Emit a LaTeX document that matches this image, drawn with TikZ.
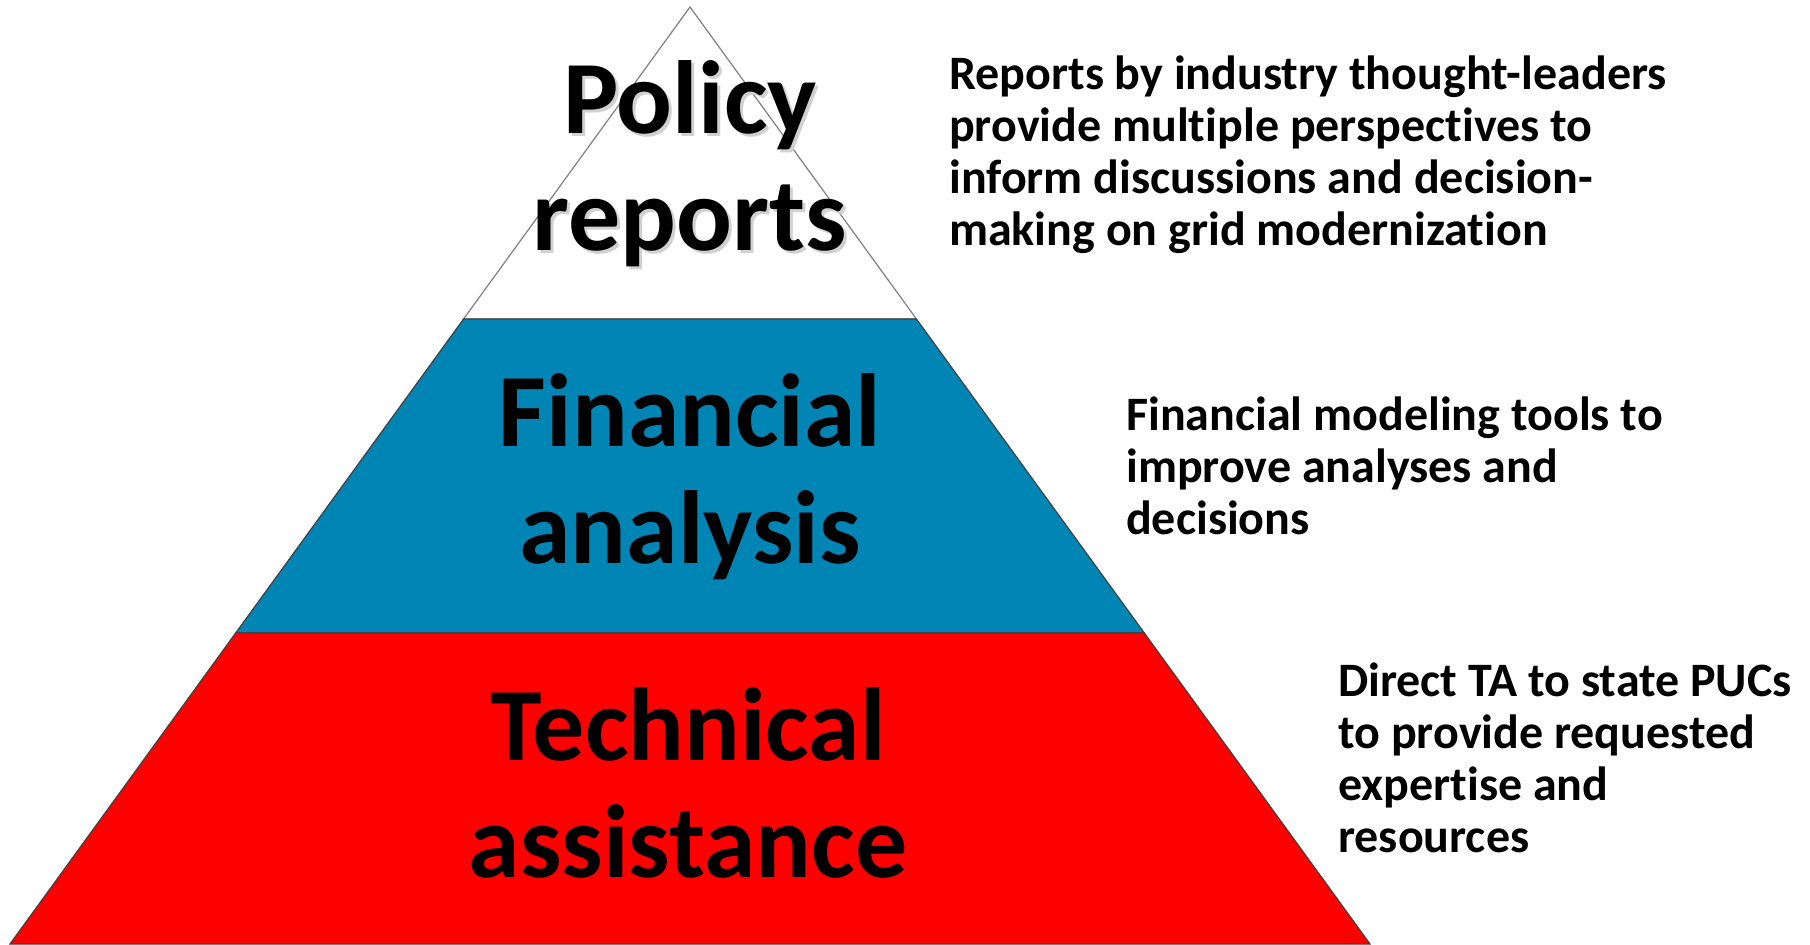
\documentclass[tikz,border=0pt]{standalone}
\usepackage{fontspec}
\setmainfont{Carlito}[Ligatures=NoCommon]
\usetikzlibrary{positioning, calc}
\definecolor{tierblue}{RGB}{0,133,180}
\definecolor{tierred}{RGB}{255,0,0}

\begin{document}
\begin{tikzpicture}[x=1pt, y=-1pt,
        bigtext/.style={font=\fontsize{104}{117}\selectfont\bfseries, align=center, inner sep=0pt, anchor=base},
        sidetext/.style={font=\fontsize{48}{52}\selectfont\bfseries, align=left, inner sep=0pt, anchor=base west}]
        \useasboundingbox (0,0) rectangle (1810,945);

        % corners of the pyramid
        \coordinate (apex) at (690, 7);
        \coordinate (baseL) at (10, 944);
        \coordinate (baseR) at (1370, 944);
        \coordinate (midL) at ($(apex)!0.333!(baseL)$);
        \coordinate (midR) at ($(apex)!0.333!(baseR)$);
        \coordinate (lowL) at ($(apex)!0.668!(baseL)$);
        \coordinate (lowR) at ($(apex)!0.668!(baseR)$);

        \filldraw[fill=white, draw=black!50, line width=1.2pt] (apex) -- (midR) -- (midL) -- cycle;
        \filldraw[fill=tierblue, draw=black!75, line width=1.2pt] (midL) -- (midR) -- (lowR) -- (lowL) -- cycle;
        \filldraw[fill=tierred, draw=black!75, line width=1.2pt] (lowL) -- (lowR) -- (baseR) -- (baseL) -- cycle;

        % base anchor sits on the last line
        \node[bigtext, text=black!18] (policyshadow) at (693, 253) {Policy\\reports};
        \node[bigtext] (policy) at (690, 250) {Policy\\reports};
        \node[bigtext] (financial) at (690, 563) {Financial\\analysis};
        \node[bigtext] (technical) at (688, 877) {Technical\\assistance};

        \node[sidetext] (policytext) at (949, 245) {Reports by industry thought-leaders\\provide multiple perspectives to\\inform discussions and decision-\\making on grid modernization};
        \node[sidetext] (financialtext) at (1126, 534) {Financial modeling tools to\\improve analyses and\\decisions};
        \node[sidetext] (technicaltext) at (1338, 852) {Direct TA to state PUCs\\to provide requested\\expertise and\\resources};
    \end{tikzpicture}
\end{document}
